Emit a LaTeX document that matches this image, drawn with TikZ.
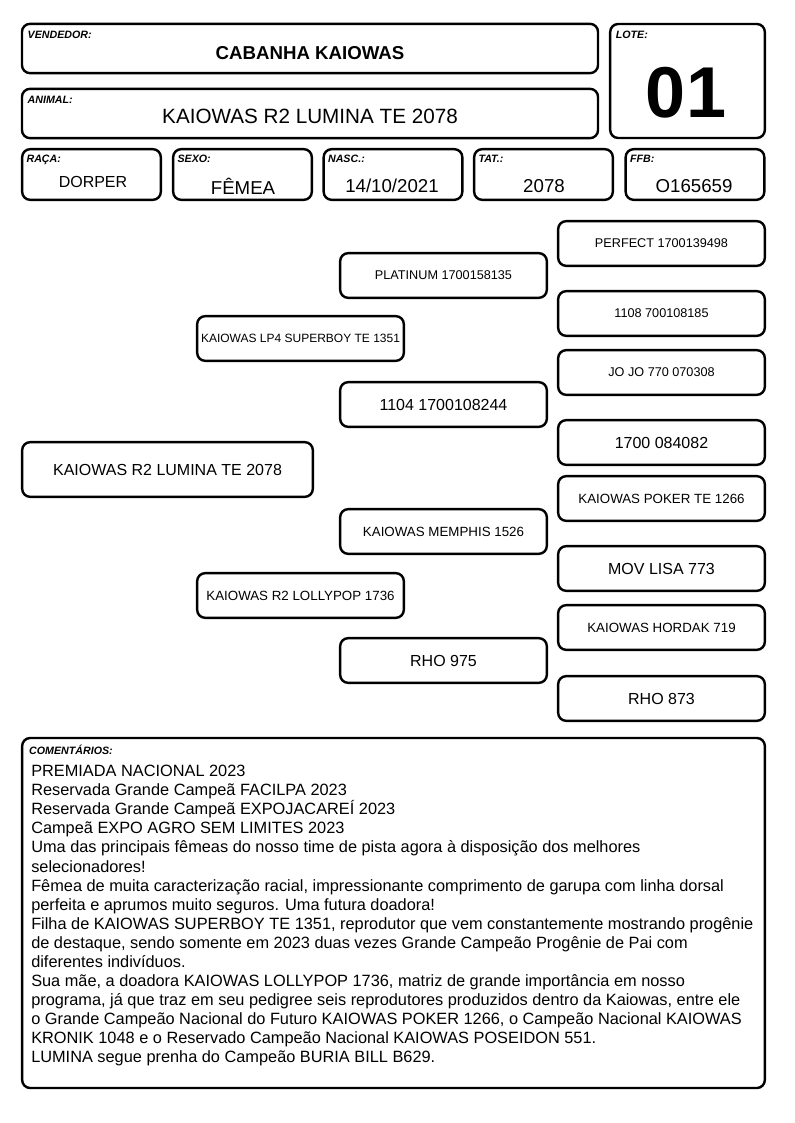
\documentclass[tikz,border=0pt]{standalone}
\usepackage{fontspec}
\setmainfont{Liberation Sans}
\usetikzlibrary{positioning}
\newcommand{\fs}[1]{\fontsize{#1}{#1}\selectfont}
\newcommand{\notefont}{\fontsize{12.25}{14.3}\selectfont\setlength{\lineskiplimit}{-20pt}}
\tikzset{
  card/.style={draw, line width=1.8pt, rounded corners=6pt, inner sep=0pt},
  tag/.style={font=\fontsize{8}{9}\selectfont\bfseries\itshape, inner sep=0pt, anchor=north west},
  info/.style={card, minimum width=104pt, minimum height=38pt},
  ped/.style={card, minimum width=155pt, minimum height=33.5pt},
}

\begin{document}
\begin{tikzpicture}[x=0.75pt, y=-0.75pt]
    \useasboundingbox (0,0) rectangle (794,1123);

    % cabecalho
    \node[card, minimum width=432pt, minimum height=37pt] (vend) at (310,48.5) {};
    \node[tag] (vendtag) at ([xshift=5pt,yshift=-6pt]vend.north west) {VENDEDOR:};
    \node[font=\fs{14}\bfseries] (vendval) at (310,53) {CABANHA KAIOWAS};

    \node[card, minimum width=432pt, minimum height=37pt] (anim) at (310,113.5) {};
    \node[tag] (animtag) at ([xshift=5pt,yshift=-6pt]anim.north west) {ANIMAL:};
    \node[font=\fs{15.5}] (animval) at (310,116) {KAIOWAS R2 LUMINA TE 2078};

    \node[card, minimum width=116pt, minimum height=85.5pt] (lote) at (687.5,81) {};
    \node[tag] (lotetag) at ([xshift=5pt,yshift=-6pt]lote.north west) {LOTE:};
    \node[font=\fs{54}\bfseries] (loteval) at (686,93) {01};

    % dados
    \node[info] (raca) at (91.5,174.5) {};
    \node[tag] (racatag) at ([xshift=4pt,yshift=-5pt]raca.north west) {RAÇA:};
    \node[font=\fs{12}] (racaval) at (93,182) {DORPER};

    \node[info] (sexo) at (242.5,174.5) {};
    \node[tag] (sexotag) at ([xshift=4pt,yshift=-5pt]sexo.north west) {SEXO:};
    \node[font=\fs{14}] (sexoval) at (243,186) {FÊMEA};

    \node[info] (nasc) at (393,174.5) {};
    \node[tag] (nasctag) at ([xshift=4pt,yshift=-5pt]nasc.north west) {NASC.:};
    \node[font=\fs{14}] (nascval) at (392,186) {14/10/2021};

    \node[info] (tat) at (543.5,174.5) {};
    \node[tag] (tattag) at ([xshift=4pt,yshift=-5pt]tat.north west) {TAT.:};
    \node[font=\fs{14}] (tatval) at (544,186) {2078};

    \node[info] (ffb) at (695,174.5) {};
    \node[tag] (ffbtag) at ([xshift=4pt,yshift=-5pt]ffb.north west) {FFB:};
    \node[font=\fs{14}] (ffbval) at (694,186) {O165659};

    % pedigree
    \node[card, minimum width=218pt, minimum height=41pt, font=\fs{12}] (filha) at (167.5,469.5) {KAIOWAS R2 LUMINA TE 2078};

    \node[ped, font=\fs{9}] (pai) at (300.5,338.5) {KAIOWAS LP4 SUPERBOY TE 1351};
    \node[ped, font=\fs{10}] (mae) at (300.5,595.5) {KAIOWAS R2 LOLLYPOP 1736};

    \node[ped, font=\fs{9.5}] (avopp) at (443.5,275.5) {PLATINUM 1700158135};
    \node[ped, font=\fs{12}] (avapp) at (443.5,404.5) {1104 1700108244};
    \node[ped, font=\fs{10}] (avomm) at (443.5,531.5) {KAIOWAS MEMPHIS 1526};
    \node[ped, font=\fs{12}] (avamm) at (443.5,660.5) {RHO 975};

    \node[ped, font=\fs{9.5}] (bis1) at (661.5,243.5) {PERFECT 1700139498};
    \node[ped, font=\fs{9.5}] (bis2) at (661.5,313.5) {1108 700108185};
    \node[ped, font=\fs{9.5}] (bis3) at (661.5,372.5) {JO JO 770 070308};
    \node[ped, font=\fs{12}] (bis4) at (661.5,442.5) {1700 084082};
    \node[ped, font=\fs{10}] (bis5) at (661.5,498.5) {KAIOWAS POKER TE 1266};
    \node[ped, font=\fs{12}] (bis6) at (661.5,568.5) {MOV LISA 773};
    \node[ped, font=\fs{10}] (bis7) at (661.5,627.5) {KAIOWAS HORDAK 719};
    \node[ped, font=\fs{12}] (bis8) at (661.5,698.5) {RHO 873};

    % comentarios
    \node[card, minimum width=557pt, minimum height=262.5pt] (coment) at (393.5,913) {};
    \node[tag] (comenttag) at ([xshift=6pt,yshift=-6pt]coment.north west) {COMENTÁRIOS:};
    \node[anchor=north west, inner sep=0pt, align=left, font=\notefont] (comentval) at (31,765) {%
      PREMIADA NACIONAL 2023\\
      Reservada Grande Campeã FACILPA 2023\\
      Reservada Grande Campeã EXPOJACAREÍ 2023\\
      Campeã EXPO AGRO SEM LIMITES 2023\\
      Uma das principais fêmeas do nosso time de pista agora à disposição dos melhores\\
      selecionadores!\\
      Fêmea de muita caracterização racial, impressionante comprimento de garupa com linha dorsal\\
      perfeita e aprumos muito seguros. Uma futura doadora!\\
      Filha de KAIOWAS SUPERBOY TE 1351, reprodutor que vem constantemente mostrando progênie\\
      de destaque, sendo somente em 2023 duas vezes Grande Campeão Progênie de Pai com\\
      diferentes indivíduos.\\
      Sua mãe, a doadora KAIOWAS LOLLYPOP 1736, matriz de grande importância em nosso\\
      programa, já que traz em seu pedigree seis reprodutores produzidos dentro da Kaiowas, entre ele\\
      o Grande Campeão Nacional do Futuro KAIOWAS POKER 1266, o Campeão Nacional KAIOWAS\\
      KRONIK 1048 e o Reservado Campeão Nacional KAIOWAS POSEIDON 551.\\
      LUMINA segue prenha do Campeão BURIA BILL B629.};
\end{tikzpicture}
\end{document}
